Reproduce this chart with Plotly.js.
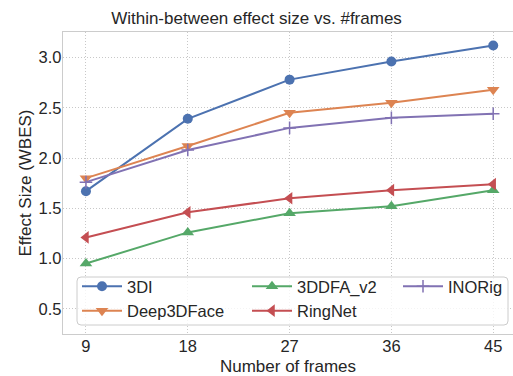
<!DOCTYPE html>
<html>
<head>
<meta charset="utf-8">
<script src="https://cdn.plot.ly/plotly-3.0.1.min.js"></script>
<style>html,body{margin:0;padding:0;background:#fff;}</style>
</head>
<body>
<div id="chart" style="width:513px;height:376px;"></div>
<script>
const frames = [9, 18, 27, 36, 45];
const tickLabels = ["9", "18", "27", "36", "45"];
const yTicks = [0.5, 1.0, 1.5, 2.0, 2.5, 3.0];
const yTickLabels = ["0.5", "1.0", "1.5", "2.0", "2.5", "3.0"];

const series3DI = [1.67, 2.39, 2.78, 2.96, 3.12];
const seriesDeep3DFace = [1.80, 2.12, 2.45, 2.55, 2.68];
const series3DDFA = [0.95, 1.26, 1.45, 1.52, 1.68];
const seriesRingNet = [1.21, 1.46, 1.60, 1.68, 1.74];
const seriesINORig = [1.76, 2.08, 2.30, 2.40, 2.44];

const names = ["3DI", "Deep3DFace", "3DDFA_v2", "RingNet", "INORig"];
const values = [series3DI, seriesDeep3DFace, series3DDFA, seriesRingNet, seriesINORig];
const colors = ["#4C72B0", "#DD8452", "#55A868", "#C44E52", "#8172B3"];
const symbols = ["circle", "triangle-down", "triangle-up", "triangle-left", "cross-thin-open"];
const legendIds = ["legend", "legend", "legend2", "legend2", "legend3"];

const traces = names.map((n, i) => ({
  x: frames, y: values[i], name: n, type: "scatter", mode: "lines+markers",
  line: {color: colors[i], width: 2},
  marker: {symbol: symbols[i], size: i === 0 ? 10 : (i === 4 ? 9 : 11), color: colors[i],
           line: {color: colors[i], width: i === 4 ? 1.5 : 0}},
  legend: legendIds[i]
}));

const font = "Liberation Sans, Arial, sans-serif";
const L = 63, T = 32, PW = 450, PH = 302;
const px = v => (v - L) / PW;
const py = v => (T + PH - v) / PH;

function legendAt(xPix) {
  return {
    orientation: "v", x: px(xPix), xanchor: "left", y: py(269), yanchor: "top",
    bgcolor: "rgba(0,0,0,0)", borderwidth: 0, itemwidth: 40,
    font: {size: 16.5, color: "#262626"}, traceorder: "normal", tracegroupgap: 0
  };
}

// rounded legend frame
const bx0 = 77, bx1 = 508, by0 = 277, by1 = 325, r = 4;
const framePath = [
  `M${px(bx0 + r)},${py(by0)}`, `L${px(bx1 - r)},${py(by0)}`,
  `Q${px(bx1)},${py(by0)} ${px(bx1)},${py(by0 + r)}`,
  `L${px(bx1)},${py(by1 - r)}`, `Q${px(bx1)},${py(by1)} ${px(bx1 - r)},${py(by1)}`,
  `L${px(bx0 + r)},${py(by1)}`, `Q${px(bx0)},${py(by1)} ${px(bx0)},${py(by1 - r)}`,
  `L${px(bx0)},${py(by0 + r)}`, `Q${px(bx0)},${py(by0)} ${px(bx0 + r)},${py(by0)}`, "Z"
].join(" ");

const layout = {
  width: 513, height: 376,
  margin: {l: L, r: 0, t: T, b: 376 - T - PH},
  paper_bgcolor: "#fff", plot_bgcolor: "#fff",
  font: {family: font, size: 16, color: "#262626"},
  title: {text: "Within-between effect size vs. #frames", font: {size: 17, color: "#262626"},
          x: 0.5, xanchor: "center", y: 1 - 18.5/376, yanchor: "middle"},
  xaxis: {
    range: [6.97, 46.75], tickvals: frames, ticktext: tickLabels,
    showgrid: true, gridcolor: "#c8c8c8", griddash: "1px,2px", gridwidth: 1,
    zeroline: false, showline: true, linecolor: "#cccccc", linewidth: 1.2, mirror: true,
    ticks: "", tickfont: {size: 16.5}, ticklabelstandoff: -3,
    title: {text: "Number of frames", font: {size: 17}, standoff: 7}
  },
  yaxis: {
    range: [0.249, 3.254], tickvals: yTicks, ticktext: yTickLabels,
    showgrid: true, gridcolor: "#c8c8c8", griddash: "1px,2px", gridwidth: 1,
    zeroline: false, showline: true, linecolor: "#cccccc", linewidth: 1.2,
    ticks: "", tickfont: {size: 16.5}, ticklabelstandoff: -3,
    title: {text: "Effect Size (WBES)", font: {size: 17}, standoff: 2}
  },
  shapes: [{
    type: "path", xref: "paper", yref: "paper", path: framePath, layer: "above",
    line: {color: "#cccccc", width: 1}, fillcolor: "rgba(255,255,255,0.8)"
  }],
  legend: legendAt(77),
  legend2: legendAt(247),
  legend3: legendAt(398),
  showlegend: true
};

Plotly.newPlot("chart", traces, layout, {displayModeBar: false, staticPlot: true});
</script>
</body>
</html>
